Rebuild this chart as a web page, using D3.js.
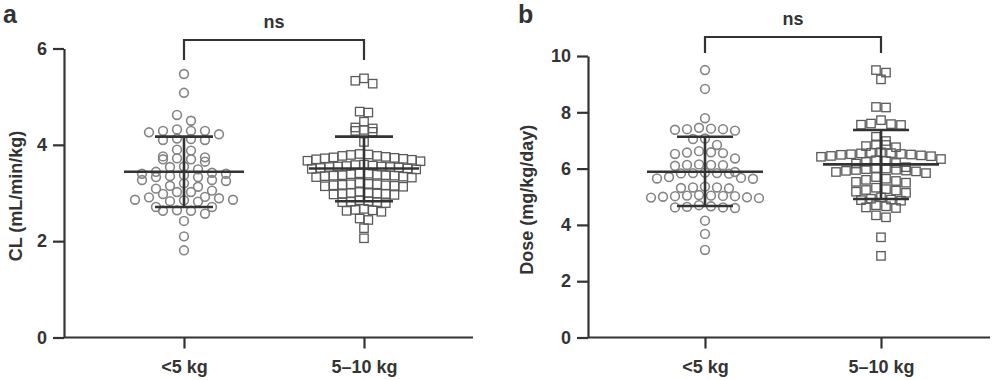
<!DOCTYPE html>
<html>
<head>
<meta charset="utf-8">
<script src="https://cdn.jsdelivr.net/npm/d3@7"></script>
<style>
body { margin: 0; background: #fff; }
svg text { font-family: "Liberation Sans", Arial, sans-serif; font-weight: bold; fill: #333; }
</style>
</head>
<body>
<svg width="1000" height="380"></svg>
<script>
const groups = ["<5 kg", "5–10 kg"];

// CL (mL/min/kg)
const clUnder5 = [5.47, 5.08, 4.62, 4.50, 4.32, 4.29, 4.29, 4.29, 4.26, 4.22, 4.13, 4.12, 4.10, 4.10,
    3.90, 3.88, 3.76, 3.74, 3.72, 3.70, 3.70, 3.65, 3.55, 3.54, 3.49, 3.44, 3.42, 3.40, 3.40, 3.37,
    3.35, 3.33, 3.33, 3.27, 3.27, 3.25, 3.20, 3.15, 3.13, 3.09, 3.05, 3.02, 3.02, 2.98, 2.92, 2.91,
    2.89, 2.86, 2.86, 2.85, 2.83, 2.82, 2.71, 2.71, 2.64, 2.63, 2.63, 2.57, 2.42, 2.10, 1.81];
const cl5to10 = [5.38, 5.33, 5.27, 4.69, 4.67, 4.48, 4.36, 4.34, 4.31, 4.29, 4.27, 4.06,
    3.81, 3.80, 3.79, 3.77, 3.77, 3.75, 3.74, 3.73, 3.72, 3.71, 3.69, 3.70, 3.67, 3.66,
    3.59, 3.58, 3.57, 3.56, 3.55, 3.55, 3.54, 3.54, 3.53, 3.52, 3.51, 3.50, 3.49,
    3.41, 3.40, 3.39, 3.38, 3.37, 3.37, 3.36, 3.36, 3.35, 3.34, 3.33, 3.32,
    3.21, 3.19, 3.18, 3.18, 3.17, 3.16, 3.16, 3.15, 3.14, 3.13,
    3.02, 3.00, 3.00, 2.99, 2.98, 2.98, 2.97, 2.96,
    2.85, 2.83, 2.82, 2.81, 2.81, 2.79,
    2.67, 2.65, 2.64, 2.63, 2.61, 2.47, 2.44, 2.27, 2.06];

// Dose (mg/kg/day)
const doseUnder5 = [9.50, 8.83, 7.79, 7.45, 7.42, 7.40, 7.40, 7.38, 7.35, 7.07, 7.05, 6.84,
    6.62, 6.58, 6.57, 6.55, 6.52, 6.36, 6.15, 6.13, 6.13, 6.12, 6.10, 5.88, 5.86, 5.84, 5.84,
    5.83, 5.82, 5.70, 5.67, 5.65, 5.64, 5.36, 5.33, 5.33, 5.31, 5.30, 5.06, 5.04, 5.04, 5.03,
    5.02, 5.02, 5.00, 4.98, 4.97, 4.95, 4.70, 4.66, 4.64, 4.62, 4.62, 4.60, 4.15, 3.68, 3.11];
const dose5to10 = [9.50, 9.41, 9.17, 8.19, 8.17, 7.72, 7.60, 7.58, 7.56, 7.55, 7.13, 6.98,
    6.86, 6.84, 6.80, 6.76,
    6.58, 6.56, 6.55, 6.54, 6.52, 6.51, 6.50, 6.49, 6.47, 6.45, 6.44, 6.42,
    6.34, 6.30, 6.27, 6.24, 6.20, 6.18,
    6.05, 6.02, 6.00, 5.98, 5.96, 5.95, 5.93, 5.92, 5.90, 5.88, 5.84,
    5.70, 5.64, 5.60, 5.56, 5.53, 5.50,
    5.32, 5.27, 5.24, 5.22, 5.18, 5.14,
    4.98, 4.93, 4.90, 4.88, 4.86,
    4.70, 4.66, 4.62, 4.60, 4.34, 4.27, 3.56, 2.90];

// mean and SD bars as drawn
const clMean = [3.44, 3.51];
const clSdLow = [2.71, 2.83];
const clSdHigh = [4.17, 4.17];
const doseMean = [5.89, 6.15];
const doseSdLow = [4.67, 4.92];
const doseSdHigh = [7.13, 7.37];

const clTicks = [0, 2, 4, 6];
const doseTicks = [0, 2, 4, 6, 8, 10];

const svg = d3.select("svg");
const ink = "#333";

// prism-style column scatter: bin by height, spread each bin from the centre out
function swarm(values, y, binPx, step) {
    const sorted = values.slice().sort((a, b) => b - a);
    const bins = [];
    sorted.forEach((v) => {
        const last = bins[bins.length - 1];
        if (last && y(v) - y(last[0]) <= binPx) last.push(v);
        else bins.push([v]);
    });
    const out = [];
    bins.forEach((bin) => {
        const n = bin.length;
        const slots = d3.range(n).map((k) => (k - (n - 1) / 2) * step)
            .sort((a, b) => Math.abs(a) - Math.abs(b) || a - b);
        bin.forEach((v, i) => out.push({ v, dx: slots[i] }));
    });
    return out;
}

function panel(o) {
    const g = svg.append("g");
    const y = d3.scaleLinear().domain([0, o.max]).range([337.5, o.top]);
    const x = d3.scalePoint().domain(groups).range(o.centers);

    const yAxis = g.append("g")
        .attr("transform", `translate(${o.left},0)`)
        .call(d3.axisLeft(y).tickValues(o.ticks).tickFormat(d3.format("d"))
            .tickSize(11).tickPadding(6).tickSizeOuter(0));

    g.append("line")
        .attr("x1", o.left).attr("x2", o.right)
        .attr("y1", y(0)).attr("y2", y(0))
        .attr("stroke", ink).attr("stroke-width", 2.2);

    const xAxis = g.append("g")
        .attr("transform", `translate(0,${y(0)})`)
        .call(d3.axisBottom(x).tickSize(11).tickPadding(12));
    xAxis.select(".domain").remove();

    [yAxis, xAxis].forEach((a) => {
        a.selectAll("path, line").attr("stroke", ink).attr("stroke-width", 2.2);
        a.selectAll("text").style("font-size", "18px").attr("fill", ink);
    });

    g.append("text")
        .attr("transform", `translate(${o.titleX},${(y(0) + y(o.max)) / 2 + 3}) rotate(-90)`)
        .attr("text-anchor", "middle")
        .attr("dy", "0.35em")
        .style("font-size", "18px")
        .text(o.title);

    g.append("text")
        .attr("x", o.letterX).attr("y", 23)
        .style("font-size", "25px")
        .text(o.letter);

    // significance bracket
    const [c0, c1] = groups.map((d) => x(d));
    g.append("path")
        .attr("d", `M${c0},${o.bracketY + o.drop}V${o.bracketY}H${c1}V${o.bracketY + o.drop}`)
        .attr("fill", "none").attr("stroke", ink).attr("stroke-width", 2.2);
    g.append("text")
        .attr("x", (c0 + c1) / 2).attr("y", o.bracketY - 12)
        .attr("text-anchor", "middle")
        .style("font-size", "18px")
        .text("ns");

    // circles for <5 kg
    const cx0 = x(groups[0]);
    g.selectAll(".pt-circle")
        .data(swarm(o.series[0], y, 8, o.step[0]))
        .enter().append("circle")
        .attr("class", "pt-circle")
        .attr("cx", (d) => cx0 + d.dx)
        .attr("cy", (d) => y(d.v))
        .attr("r", 4.4)
        .attr("fill", "none")
        .attr("stroke", "#858585")
        .attr("stroke-width", 1.6);

    // squares for 5–10 kg
    const cx1 = x(groups[1]);
    const s = 8.4;
    g.selectAll(".pt-square")
        .data(swarm(o.series[1], y, 7.5, o.step[1]))
        .enter().append("rect")
        .attr("class", "pt-square")
        .attr("x", (d) => cx1 + d.dx - s / 2)
        .attr("y", (d) => y(d.v) - s / 2)
        .attr("width", s).attr("height", s)
        .attr("fill", "none")
        .attr("stroke", "#5a5a5a")
        .attr("stroke-width", 1.3);

    // mean +/- SD
    groups.forEach((grp, i) => {
        const cx = x(grp);
        const m = g.append("g").attr("stroke", ink).attr("stroke-width", 2.6);
        m.append("line")
            .attr("x1", cx - o.meanHalf[i]).attr("x2", cx + o.meanHalf[i])
            .attr("y1", y(o.mean[i])).attr("y2", y(o.mean[i]));
        m.append("line")
            .attr("x1", cx).attr("x2", cx)
            .attr("y1", y(o.sdLow[i])).attr("y2", y(o.sdHigh[i]));
        [o.sdLow[i], o.sdHigh[i]].forEach((v) => {
            m.append("line")
                .attr("x1", cx - o.capHalf).attr("x2", cx + o.capHalf)
                .attr("y1", y(v)).attr("y2", y(v));
        });
    });
}

panel({
    max: 6, top: 48.5, left: 64, right: 473, centers: [184, 364],
    ticks: clTicks, title: "CL (mL/min/kg)", titleX: 16,
    letter: "a", letterX: 3, bracketY: 40, drop: 20,
    series: [clUnder5, cl5to10], step: [14, 8.7],
    mean: clMean, sdLow: clSdLow, sdHigh: clSdHigh,
    meanHalf: [60, 55], capHalf: 29
});

panel({
    max: 10, top: 56, left: 588, right: 990, centers: [705, 881],
    ticks: doseTicks, title: "Dose (mg/kg/day)", titleX: 527,
    letter: "b", letterX: 518, bracketY: 37, drop: 16,
    series: [doseUnder5, dose5to10], step: [12, 10],
    mean: doseMean, sdLow: doseSdLow, sdHigh: doseSdHigh,
    meanHalf: [58, 58], capHalf: 28
});
</script>
</body>
</html>
